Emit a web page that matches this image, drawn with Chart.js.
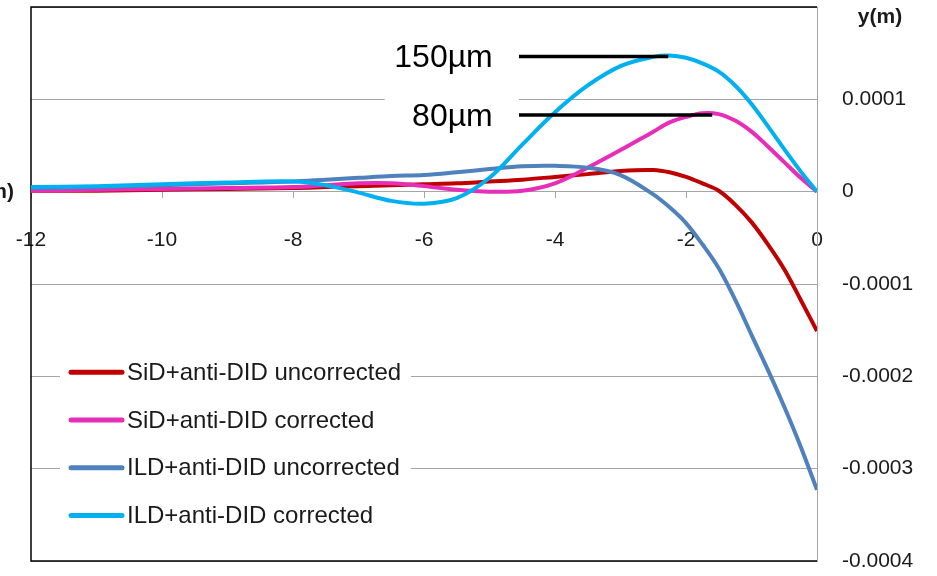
<!DOCTYPE html>
<html>
<head>
<meta charset="utf-8">
<script src="https://cdn.jsdelivr.net/npm/chart.js@4.4.0/dist/chart.umd.min.js"></script>
<style>
  html, body { margin: 0; padding: 0; background: #fff; }
  #wrap { width: 937px; height: 576px; }
</style>
</head>
<body>
<div id="wrap"><canvas id="orbitGraph"></canvas></div>
<script>
// position along the beam line (m)
const zPos = [-12, -11, -10, -9, -8, -7.5, -7, -6.5, -6, -5.5, -5, -4.5, -4, -3.5, -3, -2.5,
              -2.25, -2, -1.75, -1.5, -1.25, -1, -0.75, -0.5, -0.25, 0];

// vertical offset, in units of 1e-4 m
const sidUncorrected = [0.01, 0.01, 0.02, 0.03, 0.04, 0.05, 0.06, 0.07, 0.08, 0.09, 0.11, 0.13, 0.16, 0.19, 0.225, 0.235,
                        0.21, 0.16, 0.09, 0.01, -0.14, -0.33, -0.57, -0.84, -1.17, -1.51];
const sidCorrected   = [0.01, 0.02, 0.03, 0.04, 0.05, 0.07, 0.09, 0.09, 0.06, 0.02, 0.0, 0.01, 0.09, 0.26, 0.45, 0.65,
                        0.75, 0.81, 0.85, 0.84, 0.77, 0.65, 0.49, 0.32, 0.15, 0];
const ildUncorrected = [0.04, 0.05, 0.07, 0.09, 0.11, 0.13, 0.15, 0.17, 0.18, 0.21, 0.245, 0.275, 0.28, 0.26, 0.18, -0.03,
                        -0.17, -0.34, -0.57, -0.83, -1.17, -1.55, -1.93, -2.33, -2.76, -3.23];
const ildCorrected   = [0.05, 0.06, 0.08, 0.10, 0.11, 0.07, -0.01, -0.10, -0.13, -0.07, 0.15, 0.51, 0.86, 1.15, 1.36, 1.46,
                        1.475, 1.45, 1.39, 1.30, 1.15, 0.95, 0.71, 0.46, 0.22, 0];

const seriesNames = ['SiD+anti-DID uncorrected', 'SiD+anti-DID corrected', 'ILD+anti-DID uncorrected', 'ILD+anti-DID corrected'];
const seriesColors = ['#C00000', '#E62EB8', '#4F81BD', '#00B0F0'];

// peak markers
const peakLabels = ['150µm', '80µm'];
const peakLevels = [1.465, 0.83];
const peakEnds = [-2.27, -1.6];

const FONT = "'Liberation Sans', Arial, sans-serif";
const GRID = '#A6A6A6';

function toPoints(vals) {
    return zPos.map((z, i) => ({ x: z, y: vals[i] * 1e-4 }));
}

const allSeries = [sidUncorrected, sidCorrected, ildUncorrected, ildCorrected];

let datasets = allSeries.map(function(vals, i) {
    return {
        label: seriesNames[i],
        data: toPoints(vals),
        borderColor: seriesColors[i],
        backgroundColor: seriesColors[i],
        borderWidth: 4,
        pointRadius: 0,
        tension: 0.35,
        fill: false,
        order: 4 - i // later series on top, like the original
    };
});

const decor = {
    id: 'decor',
    beforeDatasetsDraw(chart) {
        const { ctx, chartArea: a, scales: { x, y } } = chart;
        ctx.save();
        // white boxes behind the peak labels and the legend
        ctx.fillStyle = '#fff';
        ctx.fillRect(x.getPixelForValue(-6.6), y.getPixelForValue(0.00017), x.getPixelForValue(-4.55) - x.getPixelForValue(-6.6), 100);
        ctx.fillRect(a.left + 29, y.getPixelForValue(-0.00017), 351, 190);
        // plot frame
        ctx.strokeStyle = '#000';
        ctx.lineWidth = 1.5;
        ctx.beginPath();
        ctx.moveTo(a.right, a.top);
        ctx.lineTo(a.left, a.top);
        ctx.lineTo(a.left, a.bottom);
        ctx.lineTo(a.right, a.bottom);
        ctx.stroke();
        ctx.restore();
    },
    afterDraw(chart) {
        const { ctx, chartArea: a, scales: { x, y } } = chart;
        ctx.save();

        // peak markers
        ctx.font = '32px ' + FONT;
        ctx.textAlign = 'right';
        ctx.textBaseline = 'middle';
        peakLabels.forEach(function(txt, i) {
            const py = y.getPixelForValue(peakLevels[i] * 1e-4);
            ctx.fillStyle = '#000';
            ctx.fillText(txt, x.getPixelForValue(-4.95), py + 2);
            ctx.strokeStyle = '#000';
            ctx.lineWidth = 3.5;
            ctx.beginPath();
            ctx.moveTo(x.getPixelForValue(-4.55), py);
            ctx.lineTo(x.getPixelForValue(peakEnds[i]), py);
            ctx.stroke();
        });

        // legend
        ctx.font = '24px ' + FONT;
        ctx.textAlign = 'left';
        let rowY = y.getPixelForValue(-0.0002) - 4;
        seriesNames.forEach(function(name, i) {
            const ly = rowY + i * 47.7;
            ctx.strokeStyle = seriesColors[i];
            ctx.lineWidth = 5;
            ctx.lineCap = 'round';
            ctx.beginPath();
            ctx.moveTo(a.left + 40, ly);
            ctx.lineTo(a.left + 91, ly);
            ctx.stroke();
            ctx.fillStyle = '#1a1a1a';
            ctx.fillText(name, a.left + 96, ly + 1);
        });

        // axis titles
        ctx.font = 'bold 21px ' + FONT;
        ctx.fillStyle = '#1a1a1a';
        ctx.textAlign = 'center';
        ctx.fillText('y(m)', a.right + 63, a.top + 10);
        ctx.textAlign = 'right';
        ctx.fillText('x(m)', 14, y.getPixelForValue(0) + 1);
        ctx.restore();
    }
};

let ctx = document.getElementById('orbitGraph').getContext('2d');
new Chart(ctx, {
    type: 'line',
    data: { datasets: datasets },
    options: {
        responsive: true,
        maintainAspectRatio: false,
        animation: false,
        layout: { padding: { left: 31, top: 7, right: 0, bottom: 15 } },
        plugins: {
            legend: { display: false },
            tooltip: { enabled: false }
        },
        scales: {
            x: {
                type: 'linear',
                position: { y: 0 },
                min: -12,
                max: 0,
                ticks: {
                    stepSize: 2,
                    autoSkip: false,
                    maxRotation: 0,
                    padding: 30,
                    color: '#1a1a1a',
                    font: { family: FONT, size: 21 }
                },
                grid: { drawOnChartArea: false, tickLength: 6, color: GRID },
                border: { color: GRID },
                afterFit(scale) {
                    scale.paddingLeft = 0;
                    scale.paddingRight = 0;
                }
            },
            y: {
                position: 'right',
                min: -0.0004,
                max: 0.0002,
                ticks: {
                    stepSize: 0.0001,
                    padding: 25,
                    color: '#1a1a1a',
                    font: { family: FONT, size: 21 },
                    callback: function(value) {
                        if (Math.abs(value - 0.0002) < 1e-9) return '';
                        if (Math.abs(value) < 1e-9) return '0';
                        return value.toFixed(4);
                    }
                },
                grid: { color: GRID, drawTicks: false },
                border: { color: GRID },
                afterFit(scale) {
                    scale.width = 120;
                    scale.paddingTop = 0;
                    scale.paddingBottom = 0;
                }
            }
        }
    },
    plugins: [decor]
});
</script>
</body>
</html>
